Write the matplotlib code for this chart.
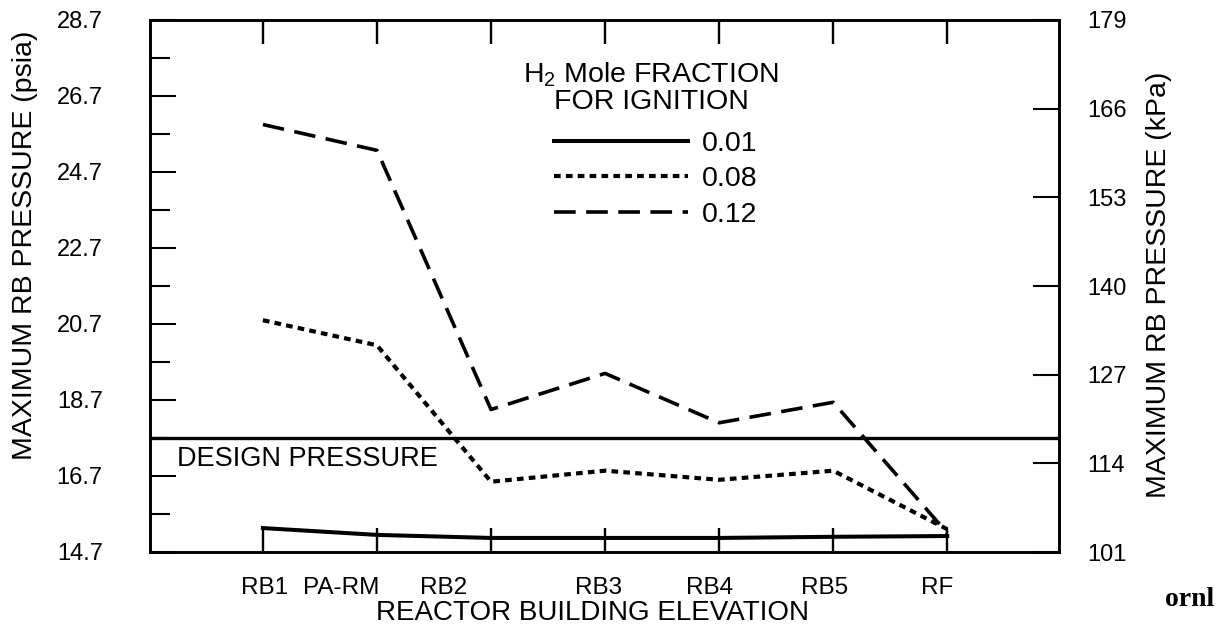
import matplotlib
matplotlib.use("Agg")
import matplotlib.pyplot as plt
from matplotlib.transforms import ScaledTranslation, blended_transform_factory
import numpy as np

plt.rcParams['font.family'] = ['Liberation Sans', 'DejaVu Sans']
plt.rcParams['mathtext.fontset'] = 'custom'
plt.rcParams['mathtext.rm'] = 'Liberation Sans'

# ---- data ----
categories = ["RB1", "PA-RM", "RB2", "RB3", "RB4", "RB5", "RF"]
p_001 = [15.33, 15.15, 15.07, 15.07, 15.07, 15.10, 15.12]
p_008 = [20.80, 20.14, 16.55, 16.84, 16.60, 16.84, 15.30]
p_012 = [25.95, 25.27, 18.45, 19.40, 18.10, 18.64, 15.20]
series_labels = ["0.01", "0.08", "0.12"]
legend_title = "H$_2$ Mole FRACTION\nFOR IGNITION"
design_pressure = 17.7
psia_ticks = [14.7, 16.7, 18.7, 20.7, 22.7, 24.7, 26.7, 28.7]
kpa_ticks = [101, 114, 127, 140, 153, 166, 179]
# hand-placed label offsets of the original drawing (points, horizontal)
label_dx_pt = [1, -26, -34, -5, -7, -6, -7]

W, H = 1226, 630
fig = plt.figure(figsize=(W / 100, H / 100), dpi=100)
L, R, T, B = 150, 1059, 20, 552
ax = fig.add_axes([L / W, 1 - B / H, (R - L) / W, (B - T) / H])

x = np.arange(len(categories))
ax.plot(x, p_001, color='black', lw=2.9, label=series_labels[0])
ax.plot(x, p_008, color='black', lw=3.0, linestyle=(0, (1.6, 1.25)), label=series_labels[1])
ax.plot(x, p_012, color='black', lw=2.6, linestyle=(0, (6.0, 2.9)), label=series_labels[2])
ax.axhline(design_pressure, color='black', lw=2.4)
ax.text(0.03, design_pressure - 0.2, "DESIGN PRESSURE", transform=ax.get_yaxis_transform(),
        ha='left', va='top', fontsize=19.5)

ax.set_xlim(-0.99, 6.98)
ax.set_ylim(psia_ticks[0], psia_ticks[-1])
ax.set_xticks(x)
ax.set_xticklabels([])
xtrans = blended_transform_factory(ax.transData, ax.transAxes)
for xi, lab, dx in zip(x, categories, label_dx_pt):
    ax.text(xi, 0, lab, fontsize=17.5, ha='center', va='center',
            transform=xtrans + ScaledTranslation(dx / 72, -36 / 100, fig.dpi_scale_trans))
ax.set_yticks(psia_ticks)
ax.set_yticklabels([f"{v:.1f}" for v in psia_ticks], fontsize=17)
ax.set_yticks(np.arange(15.7, 28.7, 2.0), minor=True)
ax.tick_params(axis='x', which='major', direction='in', length=17.5, width=1.7,
               top=True, bottom=True)
ax.tick_params(axis='y', which='major', direction='in', length=18.5, width=1.5,
               left=True, right=False, pad=34)
ax.tick_params(axis='y', which='minor', direction='in', length=14.5, width=1.5,
               left=True, right=False)
for s in ax.spines.values():
    s.set_linewidth(1.9)

ax2 = ax.twinx()
ax2.set_ylim(kpa_ticks[0], kpa_ticks[-1])
ax2.set_yticks(kpa_ticks)
ax2.set_yticklabels([str(v) for v in kpa_ticks], fontsize=17)
ax2.tick_params(axis='y', direction='in', length=18.5, width=1.5, pad=20)
for s in ax2.spines.values():
    s.set_linewidth(1.9)

ax.set_xlabel("REACTOR BUILDING ELEVATION", fontsize=20)
ax.xaxis.set_label_coords((592 - L) / (R - L), -(613 - B) / (B - T))
ax.xaxis.label.set_va('center')
ax.set_ylabel("MAXIMUM RB PRESSURE (psia)", fontsize=20.5)
ax.yaxis.set_label_coords(-(L - 38) / (R - L), (B - 245) / (B - T))
ax2.set_ylabel("MAXIMUM RB PRESSURE (kPa)", fontsize=20.5)
ax2.yaxis.set_label_coords((1146 - L) / (R - L), (B - 285) / (B - T))

fig.text(651 / W, 1 - 88 / H, legend_title, fontsize=20.5, ha='center', va='center',
         linespacing=1.0, multialignment='center')
leg = ax.legend(loc='upper left',
                bbox_to_anchor=(554 / W, 1 - 131 / H), bbox_transform=fig.transFigure,
                frameon=False, fontsize=20.5, handlelength=4.7,
                handletextpad=0.5, labelspacing=0.33, borderpad=0, borderaxespad=0)

fig.text(1190 / W, 1 - 600 / H, "ornl", family=['Liberation Serif', 'DejaVu Serif'],
         fontweight='bold', fontsize=20, ha='center', va='center')

fig.savefig("out.png", dpi=100, facecolor='white')
